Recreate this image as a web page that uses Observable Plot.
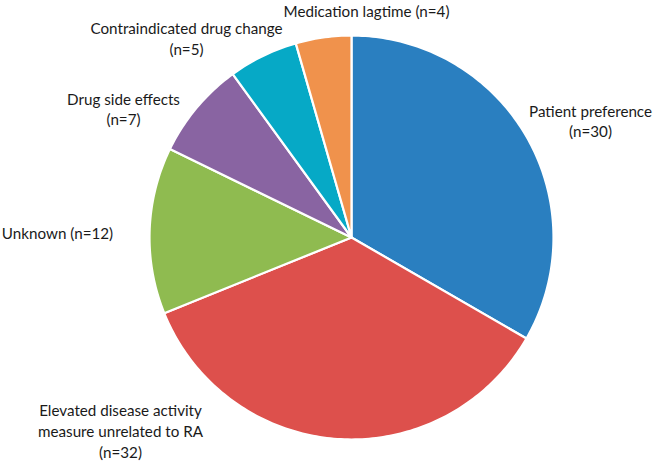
<!DOCTYPE html>
<html>
<head>
<meta charset="utf-8">
<script src="https://cdn.jsdelivr.net/npm/d3@7"></script>
<script src="https://cdn.jsdelivr.net/npm/@observablehq/plot@0.6"></script>
<style>
  html, body { margin: 0; padding: 0; background: #fff; }
  #chart svg { display: block; }
</style>
</head>
<body>
<div id="chart"></div>
<script>
// ---- data ----
const categories = [
  "Patient preference",
  "Elevated disease activity measure unrelated to RA",
  "Unknown",
  "Drug side effects",
  "Contraindicated drug change",
  "Medication lagtime"
];
const counts = [30, 32, 12, 7, 5, 4];
const labelTexts = [
  "Patient preference\n(n=30)",
  "Elevated disease activity\nmeasure unrelated to RA\n(n=32)",
  "Unknown (n=12)",
  "Drug side effects\n(n=7)",
  "Contraindicated drug change\n(n=5)",
  "Medication lagtime (n=4)"
];
const colors = ["#2a7fc0", "#dd504c", "#8fbb50", "#8964a2", "#06a9c6", "#f0924c"];

// ---- layout (pixels) ----
const W = 655, H = 463;
const cx = 351, cy = 237, R = 202;
const labelPx = [[590, 120], [120, 430], [57, 232], [123, 108], [186, 37.5], [366, 10]];

// wedge outlines in unit-circle coordinates, from d3.pie
const pie = d3.pie().sort(null).value(d => d)(counts);
const wedgePts = [];
pie.forEach((a, i) => {
  const cat = categories[i];
  wedgePts.push({cat, x: 0, y: 0});
  const n = Math.max(2, Math.ceil((a.endAngle - a.startAngle) / (Math.PI / 180)));
  for (let k = 0; k <= n; k++) {
    const t = a.startAngle + (a.endAngle - a.startAngle) * k / n;
    wedgePts.push({cat, x: Math.sin(t), y: Math.cos(t)});
  }
  wedgePts.push({cat, x: 0, y: 0});
});

const labels = categories.map((c, i) => ({
  text: labelTexts[i],
  x: (labelPx[i][0] - cx) / R,
  y: (cy - labelPx[i][1]) / R
}));

const chart = Plot.plot({
  width: W,
  height: H,
  margin: 0,
  x: {domain: [-1, 1], range: [cx - R, cx + R], axis: null},
  y: {domain: [-1, 1], range: [cy + R, cy - R], axis: null},
  color: {domain: categories, range: colors, legend: false},
  style: {fontFamily: "Lato, 'Open Sans', sans-serif", background: "#fff"},
  marks: [
    Plot.line(wedgePts, {
      x: "x", y: "y", z: "cat", fill: "cat",
      stroke: "white", strokeWidth: 2.2, strokeLinejoin: "round", curve: "linear"
    }),
    Plot.text(labels, {
      x: "x", y: "y", text: "text",
      fontSize: 15.2, lineHeight: 1.36, fill: "#1a1a1a", textAnchor: "middle"
    })
  ]
});
document.getElementById("chart").appendChild(chart);
</script>
</body>
</html>
